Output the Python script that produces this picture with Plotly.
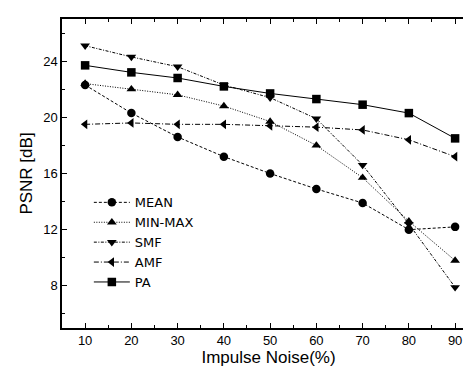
import plotly.graph_objects as go

noise = [10, 20, 30, 40, 50, 60, 70, 80, 90]
mean_vals = [22.3, 20.3, 18.6, 17.2, 16.0, 14.9, 13.9, 12.0, 12.2]
minmax_vals = [22.4, 22.0, 21.6, 20.8, 19.7, 18.0, 15.7, 12.6, 9.8]
smf_vals = [25.1, 24.3, 23.6, 22.3, 21.4, 19.9, 16.6, 12.4, 7.9]
amf_vals = [19.5, 19.6, 19.5, 19.5, 19.4, 19.3, 19.1, 18.4, 17.2]
pa_vals = [23.7, 23.2, 22.8, 22.2, 21.7, 21.3, 20.9, 20.3, 18.5]

series = [
    ("MEAN", mean_vals, "circle", "3px,2px"),
    ("MIN-MAX", minmax_vals, "triangle-up", "1px,1.5px"),
    ("SMF", smf_vals, "triangle-down", "3px,1.5px,1px,1.5px"),
    ("AMF", amf_vals, "triangle-left", "5px,2px,1px,2px"),
    ("PA", pa_vals, "square", "solid"),
]

fig = go.Figure()
for name, vals, sym, dash in series:
    fig.add_trace(go.Scatter(
        x=noise, y=vals, name=name, mode="lines+markers",
        line=dict(color="black", width=1, dash=dash),
        marker=dict(symbol=sym, size=8.5, color="black"),
    ))

FONT = "Liberation Sans, Arial"
axis_common = dict(
    showline=True, linecolor="black", linewidth=1.5, mirror="ticks",
    ticks="inside", ticklen=5, tickcolor="black", tickwidth=1,
    showgrid=False, zeroline=False,
    tickfont=dict(family=FONT, size=13, color="black"),
    title_font=dict(family=FONT, size=17, color="black"),
)

fig.update_xaxes(
    range=[5, 94.3], tickvals=noise, title_text="Impulse Noise(%)",
    minor=dict(dtick=5, tick0=5, ticks="inside", ticklen=3, tickcolor="black"),
    title_standoff=2, **axis_common,
)
fig.update_yaxes(
    range=[5, 27], tickvals=[8, 12, 16, 20, 24], title_text="PSNR [dB]",
    minor=dict(dtick=2, tick0=6, ticks="inside", ticklen=3, tickcolor="black"),
    title_standoff=6, **axis_common,
)

fig.update_layout(
    width=471, height=366,
    margin=dict(l=54, r=2, t=11, b=46),
    paper_bgcolor="white", plot_bgcolor="white",
    font=dict(family=FONT, color="black"),
    legend=dict(
        x=0.065, y=0.455, xanchor="left", yanchor="top",
        bgcolor="rgba(0,0,0,0)", font=dict(size=13, family="DejaVu Sans"),
        tracegroupgap=0, itemwidth=36,
    ),
)

fig.write_html("out.html")
